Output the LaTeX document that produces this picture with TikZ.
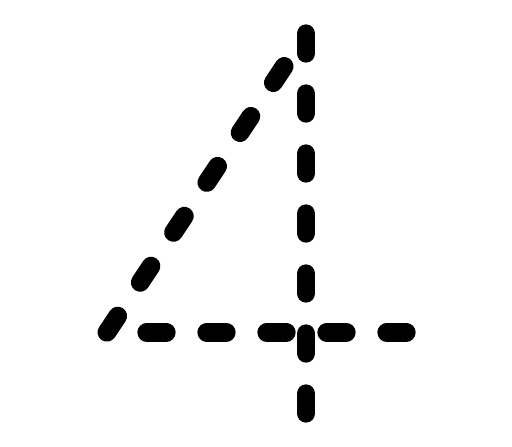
\documentclass[tikz,border=0pt]{standalone}
\begin{document}
\begin{tikzpicture}[x=1pt,y=-1pt,
  stroke4/.style={line width=18.7pt, line cap=round, dash pattern=on 19.6pt off 40.4pt, black}]
\useasboundingbox (0,0) rectangle (512,447);
\coordinate (top) at (306,33.7);
\coordinate (bot) at (306,413.3);
\coordinate (corner) at (106.9,332.3);
\coordinate (hstart) at (146.7,332.3);
\coordinate (hend) at (406.3,332.3);
\draw[stroke4] (top) -- (bot);
\draw[stroke4] (corner) -- (top);
\draw[stroke4] (hstart) -- (hend);
\end{tikzpicture}
\end{document}
